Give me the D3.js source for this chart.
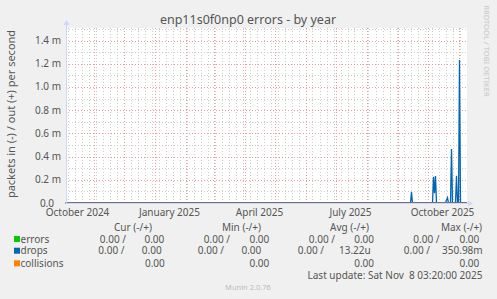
<!DOCTYPE html>
<html>
<head>
<meta charset="utf-8">
<script src="https://cdn.jsdelivr.net/npm/d3@7/dist/d3.min.js"></script>
<style>
  body { margin: 0; background: #f0f0f0; }
  svg { display: block; font-family: "Noto Sans", sans-serif; }
  text { fill: #555; }
</style>
</head>
<body>
<svg id="chart" width="497" height="299"></svg>
<script>
// ---- data ----
const title = "enp11s0f0np0 errors - by year";
const yAxisTitle = "packets in (-) / out (+) per second";

// drops, out (+) direction, packets/s ; everything else sits on zero
const dropsDates = ["2024-10-04", "2025-09-14", "2025-09-15", "2025-09-16",
  "2025-10-06", "2025-10-07", "2025-10-08", "2025-10-09", "2025-10-10",
  "2025-10-19", "2025-10-20", "2025-10-21", "2025-10-22",
  "2025-10-24", "2025-10-25", "2025-10-26",
  "2025-10-29", "2025-10-30", "2025-10-31",
  "2025-11-01", "2025-11-02", "2025-11-03", "2025-11-07"];
const dropsOut = [0, 0, 0.095e-3, 0,
  0, 0.225e-3, 0.085e-3, 0.232e-3, 0,
  0, 0.025e-3, 0.045e-3, 0,
  0, 0.466e-3, 0,
  0, 0.235e-3, 0,
  0, 1.233e-3, 0, 0];
const errorsDates = ["2024-10-04", "2025-11-07"];
const errorsOut = [0, 0];

// axis ticks
const yTicks = [0, 0.2e-3, 0.4e-3, 0.6e-3, 0.8e-3, 1.0e-3, 1.2e-3, 1.4e-3];
const yTickLabels = ["0.0", "0.2 m", "0.4 m", "0.6 m", "0.8 m", "1.0 m", "1.2 m", "1.4 m"];
const yMinorTicks = [0.1e-3, 0.3e-3, 0.5e-3, 0.7e-3, 0.9e-3, 1.1e-3, 1.3e-3, 1.5e-3];
const xTickDates = ["2024-10-16", "2025-01-16", "2025-04-16", "2025-07-16", "2025-10-16"];
const xTickLabels = ["October 2024", "January 2025", "April 2025", "July 2025", "October 2025"];

// legend
const legendNames = ["errors", "drops", "collisions"];
const legendColors = ["#00cc00", "#0066b3", "#ff8000"];
const legendHeaders = ["Cur (-/+)", "Min (-/+)", "Avg (-/+)", "Max (-/+)"];
// [in, out] per column, null = not printed
const legendErrors = [["0.00", "0.00"], ["0.00", "0.00"], ["0.00", "0.00"], ["0.00", "0.00"]];
const legendDrops = [["0.00", "0.00"], ["0.00", "0.00"], ["0.00", "13.22u"], ["0.00", "350.98m"]];
const legendCollisions = [[null, "0.00"], [null, "0.00"], [null, "0.00"], [null, "0.00"]];
const lastUpdate = "Last update: Sat Nov  8 03:20:00 2025";
const footer = "Munin 2.0.76";
const sideNote = "RRDTOOL / TOBI OETIKER";

// ---- layout ----
const svg = d3.select("#chart");
const plot = { left: 66, right: 467, top: 28, bottom: 203 };
const parse = d3.timeParse("%Y-%m-%d");

const x = d3.scaleTime()
  .domain([new Date(2024, 9, 4, 12), new Date(2025, 10, 8, 12)])
  .range([plot.left, plot.right - 1]);
const y = d3.scaleLinear()
  .domain([0, 1.5077e-3])
  .range([plot.bottom, plot.top]);

// canvas
svg.append("rect")
  .attr("x", plot.left).attr("y", plot.top)
  .attr("width", plot.right - plot.left).attr("height", plot.bottom - plot.top)
  .attr("fill", "#fff");

const px = v => Math.round(v) + 0.5;
const grid = svg.append("g").attr("stroke-dasharray", "1,2").attr("shape-rendering", "crispEdges");

// minor grid: weeks + half steps
grid.selectAll(".vmin").data(d3.timeSunday.range(x.domain()[0], x.domain()[1]))
  .join("line")
  .attr("x1", d => px(x(d))).attr("x2", d => px(x(d)))
  .attr("y1", plot.top).attr("y2", plot.bottom)
  .attr("stroke", "#cccccc");
grid.selectAll(".hmin").data(yMinorTicks)
  .join("line")
  .attr("x1", plot.left).attr("x2", plot.right)
  .attr("y1", d => px(y(d))).attr("y2", d => px(y(d)))
  .attr("stroke", "#cccccc");

// major grid: months + labelled values
grid.selectAll(".vmaj").data(d3.timeMonth.range(x.domain()[0], x.domain()[1]))
  .join("line")
  .attr("x1", d => px(x(d))).attr("x2", d => px(x(d)))
  .attr("y1", plot.top).attr("y2", plot.bottom)
  .attr("stroke", "#ec9c9c");
grid.selectAll(".hmaj").data(yTicks.slice(1))
  .join("line")
  .attr("x1", plot.left).attr("x2", plot.right)
  .attr("y1", d => px(y(d))).attr("y2", d => px(y(d)))
  .attr("stroke", "#ec9c9c");

// y tick labels
svg.append("g").selectAll("text").data(yTicks)
  .join("text")
  .attr("x", 61)
  .attr("dx", d => d === 0 ? -7 : 0)
  .attr("y", d => y(d) + 3.5)
  .attr("text-anchor", "end")
  .attr("font-size", 10)
  .text((d, i) => yTickLabels[i]);

// x tick labels (centred mid month, like rrdtool)
svg.append("g").selectAll("text").data(xTickDates)
  .join("text")
  .attr("x", d => x(parse(d)))
  .attr("y", 215.7)
  .attr("text-anchor", "middle")
  .attr("font-size", 10)
  .text((d, i) => xTickLabels[i]);

// series
const line = d3.line().x(d => x(d[0])).y(d => y(d[1]));
const errorsData = errorsDates.map((d, i) => [parse(d), errorsOut[i]]);
const dropsData = dropsDates.map((d, i) => [parse(d), dropsOut[i]]);

svg.append("path").datum(errorsData)
  .attr("d", line).attr("fill", "none")
  .attr("stroke", legendColors[0]).attr("stroke-width", 1);
svg.append("path").datum(dropsData)
  .attr("d", line).attr("fill", "none")
  .attr("stroke", legendColors[1]).attr("stroke-width", 1.3);

// axes (munin AXIS#CFD6F8) and zero rule
svg.append("line")
  .attr("x1", plot.left + 0.5).attr("x2", plot.left + 0.5)
  .attr("y1", 22).attr("y2", plot.bottom)
  .attr("stroke", "#cfd6f8");
svg.append("line")
  .attr("x1", plot.left).attr("x2", 471)
  .attr("y1", plot.bottom + 0.5).attr("y2", plot.bottom + 0.5)
  .attr("stroke", "#cfd6f8");
svg.append("line")
  .attr("x1", plot.left + 1).attr("x2", plot.right)
  .attr("y1", y(0) - 0.5).attr("y2", y(0) - 0.5)
  .attr("stroke", "#6f6f86");
svg.append("path")
  .attr("d", `M${plot.left - 2.5},25 L${plot.left + 0.5},20 L${plot.left + 3.5},25 Z`)
  .attr("fill", "#cfd6f8");
svg.append("path")
  .attr("d", `M468,${plot.bottom - 2.5} L473,${plot.bottom + 0.5} L468,${plot.bottom + 3.5} Z`)
  .attr("fill", "#cfd6f8");

// titles
svg.append("text")
  .attr("x", 248).attr("y", 24)
  .attr("text-anchor", "middle")
  .attr("font-size", 12.5)
  .text(title);
svg.append("text")
  .attr("transform", "translate(15,114) rotate(-90)")
  .attr("text-anchor", "middle")
  .attr("font-size", 11)
  .text(yAxisTitle);
svg.append("text")
  .attr("transform", "translate(484,51) rotate(90)")
  .attr("text-anchor", "middle")
  .attr("font-size", 7.6)
  .style("fill", "#c8c8c8")
  .text(sideNote);

// legend
const headerX = [133, 241.5, 349.5, 461.5];
const rowY = [242.5, 254.2, 266.8];
const inRight = [[126, 230, 335, 439.5], [124.5, 224, 324, 430], [126, 230, 335, 439.5]];
const outRight = [[164.3, 269.3, 374, 479.3], [161.7, 261.3, 370.7, 482.7], [164.8, 269.3, 374, 479.3]];
const legendRows = [legendErrors, legendDrops, legendCollisions];

const legend = svg.append("g").attr("font-size", 10);
legend.selectAll(".hdr").data(legendHeaders)
  .join("text")
  .attr("x", (d, i) => headerX[i]).attr("y", 231)
  .attr("text-anchor", "middle")
  .text(d => d);

legendNames.forEach((name, r) => {
  legend.append("rect")
    .attr("x", 14).attr("y", rowY[r] - 6.5)
    .attr("width", 6).attr("height", 6)
    .attr("fill", legendColors[r]);
  legend.append("text")
    .attr("x", 20.5).attr("y", rowY[r])
    .text(name);
  legendRows[r].forEach((v, c) => {
    if (v[0] !== null) {
      legend.append("text")
        .attr("x", inRight[r][c]).attr("y", rowY[r])
        .attr("text-anchor", "end")
        .text(v[0] + "  /");
    }
    legend.append("text")
      .attr("x", outRight[r][c]).attr("y", rowY[r])
      .attr("text-anchor", "end")
      .text(v[1]);
  });
});

legend.append("text")
  .attr("x", 482.5).attr("y", 278.5)
  .attr("text-anchor", "end")
  .style("white-space", "pre")
  .text(lastUpdate);

svg.append("text")
  .attr("x", 248).attr("y", 289.5)
  .attr("text-anchor", "middle")
  .attr("font-size", 7.5)
  .style("fill", "#bbbbbb")
  .text(footer);
</script>
</body>
</html>
